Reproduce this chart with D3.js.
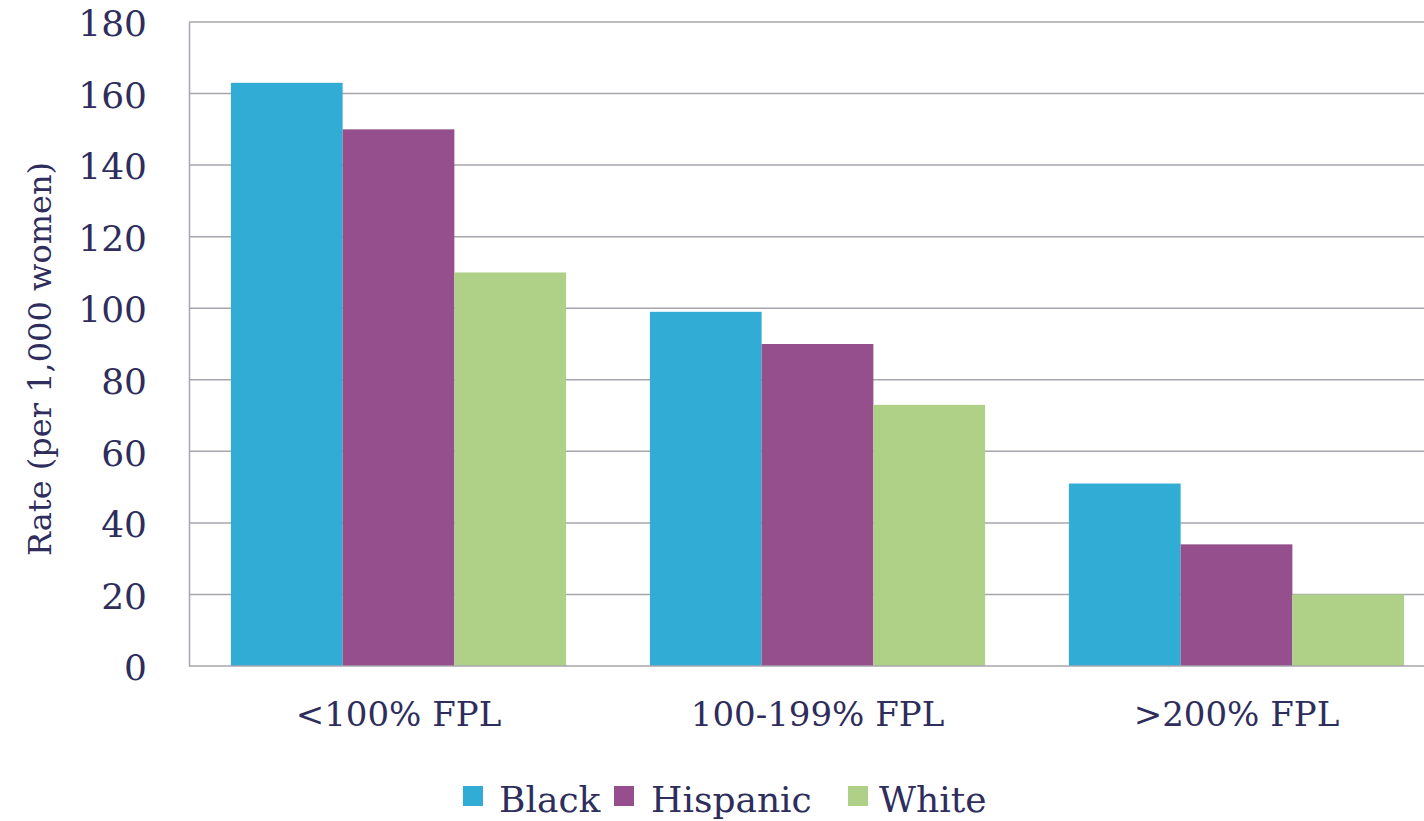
<!DOCTYPE html>
<html><head><meta charset="utf-8">
<script src="https://cdn.jsdelivr.net/npm/d3@7"></script>
<style>body{margin:0;background:#fff;} svg{display:block;}</style>
</head><body>
<script>
const categories = ["<100% FPL", "100-199% FPL", ">200% FPL"];
const seriesNames = ["Black", "Hispanic", "White"];
const black = [163, 99, 51];
const hispanic = [150, 90, 34];
const white = [110, 73, 20];
const yTicks = [0, 20, 40, 60, 80, 100, 120, 140, 160, 180];
const colors = ["#31ACD5", "#954F8C", "#AFD087"];
const series = [black, hispanic, white];

const W = 1424, H = 821;
const font = "DejaVu Serif";
const textColor = "#2E2D5C";
const svg = d3.select("body").append("svg").attr("width", W).attr("height", H);

const x0 = d3.scaleBand().domain(categories).range([189, 1446]).paddingInner(0.2).paddingOuter(0.1);
const x1 = d3.scaleBand().domain(seriesNames).range([0, x0.bandwidth()]);
const y = d3.scaleLinear().domain([0, 180]).range([666, 22]);

// gridlines
svg.append("g").selectAll("line").data(yTicks.filter(d => d > 0)).join("line")
  .attr("x1", 189).attr("x2", W).attr("y1", d => y(d)).attr("y2", d => y(d))
  .attr("stroke", "#A6A6AE").attr("stroke-width", 1.5);

// bars
categories.forEach((c, i) => {
  seriesNames.forEach((s, j) => {
    svg.append("rect")
      .attr("x", x0(c) + x1(s)).attr("width", x1.bandwidth())
      .attr("y", y(series[j][i])).attr("height", y(0) - y(series[j][i]))
      .attr("fill", colors[j]);
  });
});

// axes
const yAxis = d3.axisLeft(y).tickValues(yTicks).tickSize(0).tickPadding(42);
const gy = svg.append("g").attr("transform", "translate(189,0)").call(yAxis);
gy.select(".domain").attr("stroke", "#A6A6AE").attr("stroke-width", 1.5);
gy.selectAll("text").style("font-family", font).style("font-size", "36px").attr("fill", textColor).attr("dy", "0.38em");

const xAxis = d3.axisBottom(x0).tickSize(0).tickPadding(36);
const gx = svg.append("g").attr("transform", "translate(0,666)").call(xAxis);
gx.select(".domain").attr("d", `M189,0H${W}`).attr("stroke", "#A6A6AE").attr("stroke-width", 1.5);
gx.selectAll("text").style("font-family", font).style("font-size", "34px").attr("fill", textColor);

// y title
svg.append("text").attr("transform", "translate(51,359) rotate(-90)")
  .attr("text-anchor", "middle").style("font-family", font).style("font-size", "32px")
  .attr("fill", textColor).text("Rate (per 1,000 women)");

// legend
const legendItems = [
  {name: seriesNames[0], sx: 463, tx: 499},
  {name: seriesNames[1], sx: 614, tx: 651},
  {name: seriesNames[2], sx: 848, tx: 879}
];
legendItems.forEach((d, i) => {
  svg.append("rect").attr("x", d.sx).attr("y", 786).attr("width", 20).attr("height", 20).attr("fill", colors[i]);
  svg.append("text").attr("x", d.tx).attr("y", 812).style("font-family", font).style("font-size", "36px")
    .attr("fill", textColor).text(d.name);
});
</script>
</body></html>
